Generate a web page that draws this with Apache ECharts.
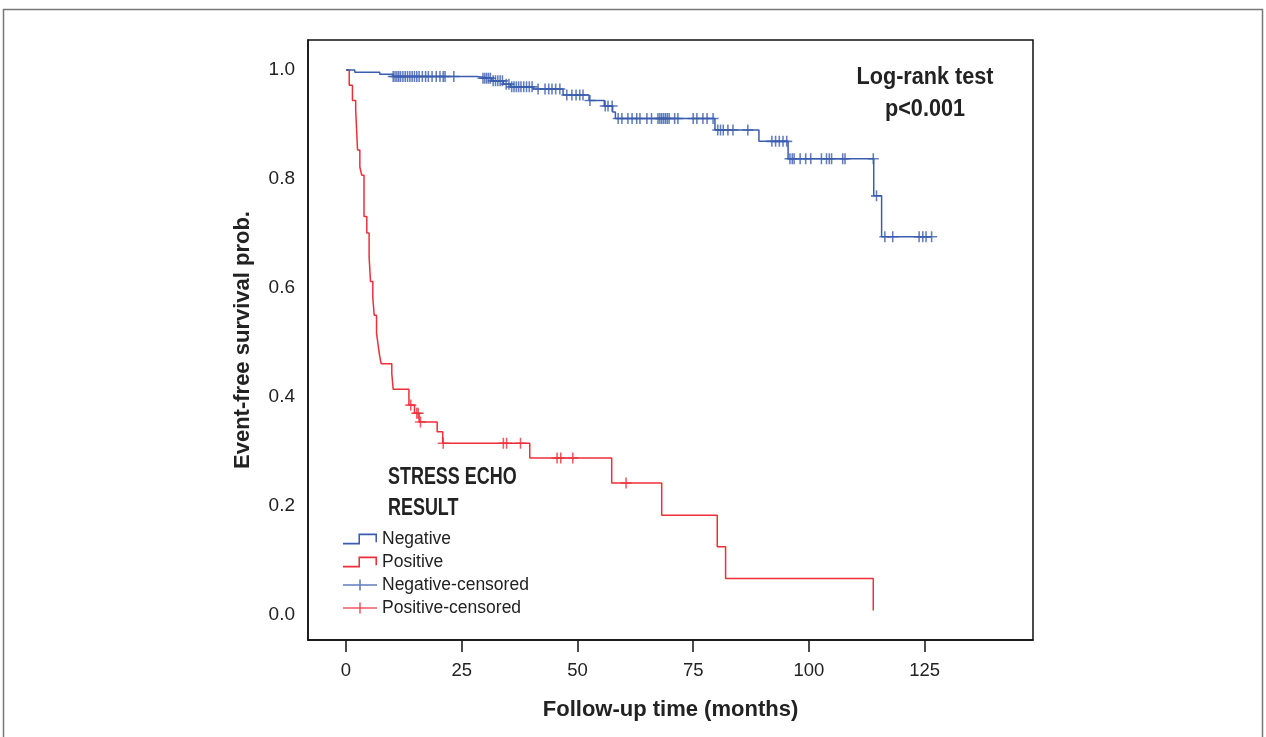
<!DOCTYPE html>
<html><head><meta charset="utf-8">
<script src="https://cdn.jsdelivr.net/npm/echarts@6/dist/echarts.min.js"></script>
<style>html,body{margin:0;padding:0;background:#fff}#c{width:1266px;height:737px}</style>
</head><body><div id="c"></div>
<script>
const xTicks = [0, 25, 50, 75, 100, 125];
const yTicks = [0, 0.2, 0.4, 0.6, 0.8, 1.0];

// Kaplan-Meier steps: [time (months), survival after the step]
const negativeSteps = [
  [0, 1.000], [1.9, 0.996], [7.3, 0.992], [10.2, 0.988], [28.2, 0.985],
  [31.5, 0.980], [34.0, 0.974], [35.5, 0.969], [40.4, 0.965], [46.9, 0.954],
  [52.5, 0.944], [55.8, 0.934], [57.6, 0.923], [58.2, 0.911], [79.7, 0.890],
  [89.2, 0.869], [95.5, 0.837], [114.0, 0.769], [115.7, 0.694], [126.5, 0.694]
];
const positiveSteps = [
  [0, 1.000], [0.7, 0.972], [1.4, 0.944], [2.1, 0.927], [2.5, 0.853],
  [3.0, 0.822], [3.4, 0.807], [3.9, 0.731], [4.5, 0.701], [5.0, 0.657],
  [5.3, 0.612], [5.8, 0.582], [6.1, 0.550], [6.6, 0.517], [7.0, 0.492],
  [7.3, 0.474], [7.6, 0.461], [9.9, 0.443], [10.2, 0.414], [13.6, 0.385],
  [14.8, 0.370], [15.8, 0.354], [19.7, 0.336], [20.9, 0.315], [39.7, 0.288],
  [57.4, 0.242], [68.2, 0.183], [80.2, 0.125], [82.0, 0.067], [113.9, 0.008]
];
// censoring times (months)
const negativeCensored = [
  10.2, 10.6, 11.0, 11.4, 11.8, 12.3, 12.8, 13.3, 13.8, 14.3, 14.8, 15.3, 15.8,
  16.5, 17.2, 17.8, 18.6, 19.5, 20.3, 21.0, 21.4, 23.3,
  29.6, 30.0, 30.4, 30.8, 31.2, 31.8, 32.3, 32.8, 33.3, 33.8,
  34.6, 35.2, 35.8, 36.3, 36.8, 37.3, 37.8, 38.4, 39.0, 39.6, 40.2,
  41.5, 43.0, 43.8, 44.5, 45.3, 46.2, 47.7, 48.8, 49.7, 50.5, 51.2,
  52.7, 56.0, 56.6, 57.5, 58.8, 59.6, 60.9, 61.8, 62.8, 63.5, 65.0, 66.0,
  67.4, 67.8, 68.2, 68.6, 69.0, 69.4, 69.8, 71.0, 71.7, 75.0, 75.8, 77.1,
  78.0, 79.3, 80.3, 80.9, 81.5, 82.5, 83.6, 86.8, 92.0, 92.8, 93.6, 94.4,
  95.2, 95.9, 96.4, 96.8, 98.1, 99.3, 100.4, 102.7, 103.8, 104.4, 104.9,
  107.3, 107.8, 113.9, 114.6, 116.4, 118.1, 123.8, 124.6, 125.3, 126.5
];
const positiveCensored = [14.0, 15.3, 15.6, 16.1, 21.0, 34.0, 34.7, 37.7, 45.6, 46.4, 49.0, 60.5];

const FONT = '"Liberation Sans Narrow", "Arial Narrow", "Liberation Sans", Arial, sans-serif';
const BLUE = '#3A5DAE';
const RED = '#ED2F3A';

function levelAt(steps, t) {
  let s = steps[0][1];
  for (const p of steps) { if (p[0] <= t) s = p[1]; else break; }
  return s;
}
const plusPath = 'path://M0,4.3H10V5.7H0Z M4.3,0H5.7V10H4.3Z';
const legendStep = 'path://M0,8.5H15V0H33V8H31.5V1.5H16.5V10H0Z';
const legendPlus = 'path://M0,4.75H33V6.25H0Z M15.75,0H17.25V11H15.75Z';

const chart = echarts.init(document.getElementById('c'), null, {renderer: 'canvas'});
chart.setOption({
  backgroundColor: '#fff',
  animation: false,
  grid: {left: 308, top: 40, width: 725, height: 600, show: true, borderColor: '#111', borderWidth: 1.5, backgroundColor: 'transparent'},
  xAxis: {
    type: 'value', min: -8.2, max: 148.4,
    name: 'Follow-up time (months)', nameLocation: 'middle', nameGap: 59,
    nameTextStyle: {fontFamily: FONT, fontSize: 22, fontWeight: 'bold', color: '#222'},
    axisLine: {show: true, onZero: false, lineStyle: {color: '#111', width: 1.5}},
    axisTick: {show: true, length: 12, lineStyle: {color: '#111', width: 1.5}, customValues: xTicks},
    axisLabel: {fontFamily: FONT, fontSize: 18.5, color: '#222', margin: 21, customValues: xTicks},
    splitLine: {show: false}
  },
  yAxis: {
    type: 'value', min: -0.046, max: 1.055,
    name: 'Event-free survival prob.', nameLocation: 'middle', nameGap: 54,
    nameTextStyle: {fontFamily: FONT, fontSize: 22, fontWeight: 'bold', color: '#222'},
    axisLine: {show: true, onZero: false, lineStyle: {color: '#111', width: 1.5}},
    axisTick: {show: false},
    axisLabel: {fontFamily: FONT, fontSize: 19, color: '#222', margin: 13, customValues: yTicks,
      formatter: v => v.toFixed(1)},
    splitLine: {show: false}
  },
  legend: {
    orient: 'vertical', left: 338, top: 525, itemWidth: 34, itemHeight: 11, itemGap: 5,
    symbolKeepAspect: false, selectedMode: false,
    textStyle: {fontFamily: FONT, fontSize: 17.5, color: '#222', lineHeight: 18},
    data: [
      {name: 'Negative', icon: legendStep},
      {name: 'Positive', icon: legendStep},
      {name: 'Negative-censored', icon: legendPlus},
      {name: 'Positive-censored', icon: legendPlus}
    ]
  },
  graphic: [
    {type: 'rect', shape: {x: 3.5, y: 9.5, width: 1259, height: 760}, style: {fill: 'none', stroke: '#777', lineWidth: 1.5}, silent: true},
    {type: 'text', x: 388, y: 462, scaleX: 0.78, style: {text: 'STRESS ECHO\nRESULT', font: 'bold 23px ' + FONT, fill: '#222', lineHeight: 31}},
    {type: 'text', x: 925, y: 62, scaleX: 0.94, style: {text: 'Log-rank test\np<0.001', font: 'bold 23px ' + FONT, fill: '#222', lineHeight: 32, align: 'center'}}
  ],
  series: [
    {name: 'Negative', type: 'line', step: 'end', symbol: 'none', data: negativeSteps,
      lineStyle: {color: BLUE, width: 1.5}, itemStyle: {color: BLUE}, z: 3},
    {name: 'Positive', type: 'line', step: 'end', symbol: 'none', data: positiveSteps,
      lineStyle: {color: RED, width: 1.5}, itemStyle: {color: RED}, z: 2},
    {name: 'Negative-censored', type: 'scatter', symbol: plusPath, symbolSize: [11, 11],
      data: negativeCensored.map(t => [t, levelAt(negativeSteps, t)]), itemStyle: {color: BLUE}, z: 4},
    {name: 'Positive-censored', type: 'scatter', symbol: plusPath, symbolSize: [11, 11],
      data: positiveCensored.map(t => [t, levelAt(positiveSteps, t)]), itemStyle: {color: RED}, z: 4}
  ]
});
</script>
</body></html>
